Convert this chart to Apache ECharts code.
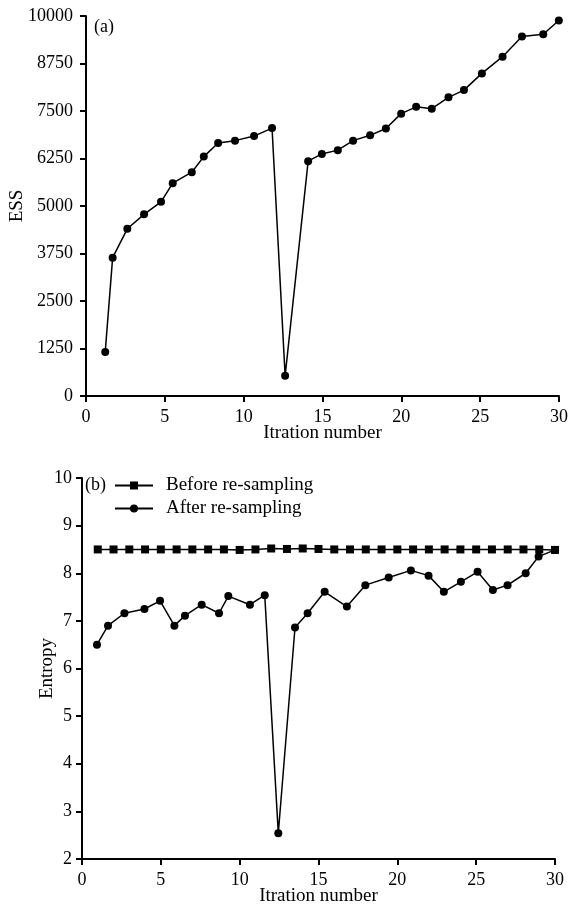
<!DOCTYPE html>
<html>
<head>
<meta charset="utf-8">
<script src="https://cdn.jsdelivr.net/npm/echarts@6/dist/echarts.min.js"></script>
<style>
html,body{margin:0;padding:0;background:#fff;}
#chart{width:568px;height:909px;}
</style>
</head>
<body>
<div id="chart"></div>
<script>
// ---- data ----
var xTicksLabel = 'Itration number';
var essX = [1.22,1.69,2.62,3.68,4.76,5.50,6.71,7.47,8.38,9.45,10.66,11.80,12.63,14.09,14.96,15.97,16.94,18.02,19.02,19.99,20.94,21.93,22.99,23.97,25.11,26.42,27.65,29.00,29.99];
var essY = [1160,3640,4400,4780,5110,5600,5890,6300,6660,6720,6840,7050,530,6180,6370,6470,6720,6860,7040,7430,7610,7560,7860,8050,8490,8930,9460,9520,9880];
var beforeX = [1,2,3,4,5,6,7,8,9,10,11,12,13,14,15,16,17,18,19,20,21,22,23,24,25,26,27,28,29,30];
var beforeY = [8.5,8.5,8.5,8.5,8.5,8.5,8.5,8.5,8.5,8.49,8.5,8.52,8.51,8.52,8.51,8.5,8.5,8.5,8.5,8.5,8.5,8.5,8.5,8.5,8.5,8.5,8.5,8.5,8.5,8.49];
var afterX = [0.95,1.65,2.69,3.96,4.95,5.86,6.53,7.59,8.69,9.28,10.65,11.59,12.45,13.51,14.31,15.39,16.80,17.97,19.45,20.86,21.98,22.95,24.03,25.09,26.06,26.99,28.14,28.96,29.99];
var afterY = [6.50,6.90,7.16,7.25,7.42,6.90,7.11,7.34,7.16,7.52,7.34,7.54,2.54,6.86,7.16,7.61,7.30,7.75,7.91,8.06,7.95,7.61,7.82,8.03,7.65,7.75,8.00,8.35,8.49];
var seriesNames = ['Before re-sampling','After re-sampling'];

function zip(xs, ys){ return xs.map(function(x,i){ return [x, ys[i]]; }); }
function plain(v){ return String(v); }

var FONT = '"Liberation Serif", "Times New Roman", serif';
var axisLineStyle = {show:true, lineStyle:{color:'#000', width:2}};
var tickStyle = {show:true, inside:false, length:6, lineStyle:{color:'#000', width:2}};
var labelStyle = {color:'#000', fontFamily:FONT, fontSize:18, formatter:plain};
var nameStyle = {color:'#000', fontFamily:FONT, fontSize:19};

var chart = echarts.init(document.getElementById('chart'), null, {renderer:'canvas'});
chart.setOption({
  backgroundColor:'#fff',
  animation:false,
  grid:[
    {left:86, top:16, width:473, height:380, outerBoundsMode:'none', containLabel:false},
    {left:82, top:478, width:473, height:381, outerBoundsMode:'none', containLabel:false}
  ],
  xAxis:[
    {gridIndex:0, type:'value', min:0, max:30, interval:5,
     name:xTicksLabel, nameLocation:'middle', nameGap:28, nameMoveOverlap:false,
     nameTextStyle:nameStyle,
     axisLine:axisLineStyle, axisTick:tickStyle,
     axisLabel:Object.assign({margin:12}, labelStyle), splitLine:{show:false}},
    {gridIndex:1, type:'value', min:0, max:30, interval:5,
     name:xTicksLabel, nameLocation:'middle', nameGap:28, nameMoveOverlap:false,
     nameTextStyle:nameStyle,
     axisLine:axisLineStyle, axisTick:tickStyle,
     axisLabel:Object.assign({margin:12}, labelStyle), splitLine:{show:false}}
  ],
  yAxis:[
    {gridIndex:0, type:'value', min:0, max:10000, interval:1250,
     name:'ESS', nameLocation:'middle', nameGap:59, nameMoveOverlap:false,
     nameTextStyle:nameStyle,
     axisLine:axisLineStyle, axisTick:tickStyle,
     axisLabel:Object.assign({margin:13}, labelStyle), splitLine:{show:false}},
    {gridIndex:1, type:'value', min:2, max:10, interval:1,
     name:'Entropy', nameLocation:'middle', nameGap:25, nameMoveOverlap:false,
     nameTextStyle:nameStyle,
     axisLine:axisLineStyle, axisTick:tickStyle,
     axisLabel:Object.assign({margin:10}, labelStyle), splitLine:{show:false}}
  ],
  legend:{
    show:true, orient:'vertical', left:114, top:476, padding:0,
    data:seriesNames, itemWidth:38, itemHeight:10, itemGap:4,
    textStyle:{color:'#000', fontFamily:FONT, fontSize:19, padding:[0,0,0,8]}
  },
  graphic:[
    {type:'text', left:94, top:18, style:{text:'(a)', fill:'#000', font:'18px ' + FONT}},
    {type:'text', left:85, top:476, style:{text:'(b)', fill:'#000', font:'18px ' + FONT}}
  ],
  series:[
    {name:'ESS', type:'line', xAxisIndex:0, yAxisIndex:0, data:zip(essX, essY),
     symbol:'circle', symbolSize:8, lineStyle:{color:'#000', width:1.5},
     itemStyle:{color:'#000'}},
    {name:seriesNames[0], type:'line', xAxisIndex:1, yAxisIndex:1, data:zip(beforeX, beforeY),
     symbol:'rect', symbolSize:8, lineStyle:{color:'#000', width:1.5},
     itemStyle:{color:'#000'}, z:3},
    {name:seriesNames[1], type:'line', xAxisIndex:1, yAxisIndex:1, data:zip(afterX, afterY),
     symbol:'circle', symbolSize:8, lineStyle:{color:'#000', width:1.5},
     itemStyle:{color:'#000'}, z:2}
  ]
});
</script>
</body>
</html>
